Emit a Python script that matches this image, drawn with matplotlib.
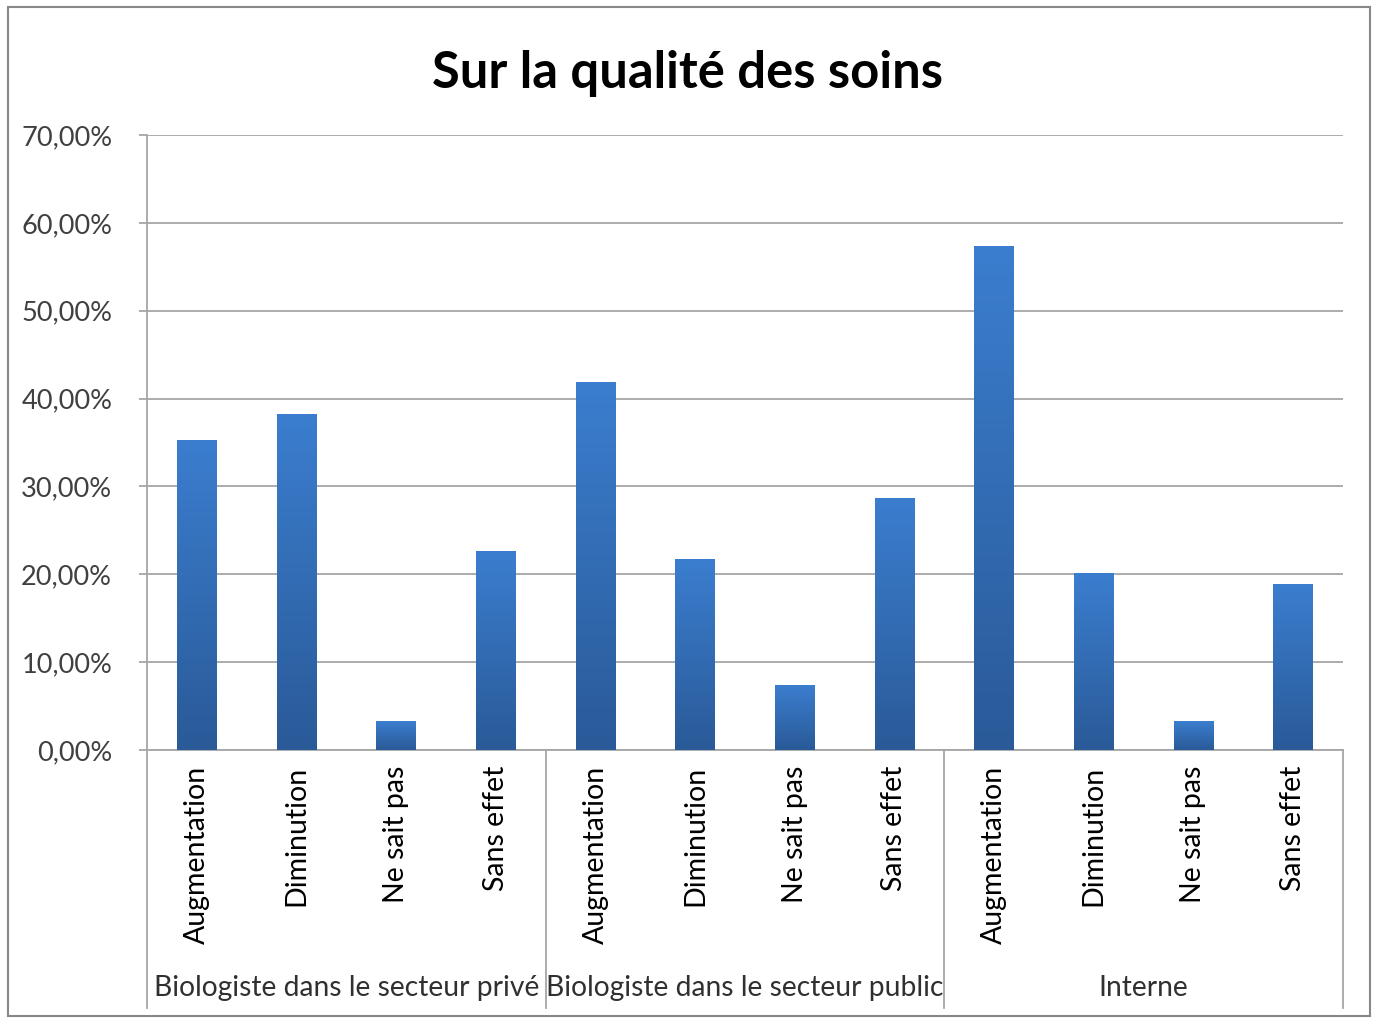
'''Sur la qualité des soins - graphique en barres groupées'''

import numpy as np
import matplotlib.pyplot as plt
from matplotlib.patches import Rectangle
from matplotlib.ticker import FuncFormatter
from matplotlib.colors import LinearSegmentedColormap

groupes = ['Biologiste dans le secteur privé', 'Biologiste dans le secteur public', 'Interne']
reponses = ['Augmentation', 'Diminution', 'Ne sait pas', 'Sans effet']

prive = [35.3, 38.2, 3.3, 22.7]
public = [41.9, 21.7, 7.4, 28.7]
interne = [57.4, 20.2, 3.3, 18.9]

valeurs = prive + public + interne
etiquettes = reponses * len(groupes)

plt.rcParams['font.family'] = ['Lato', 'DejaVu Sans']

fig = plt.figure(figsize=(13.76, 10.19), dpi=100)
ax = fig.add_axes([0.1068, 0.264, 0.8692, 0.6035])

x = np.arange(len(valeurs))
barres = ax.bar(x, valeurs, width=0.4, color='#3470BE', zorder=3)

# dégradé vertical dans chaque barre (clair en haut, foncé en bas)
degrade = np.linspace(0, 1, 256).reshape(-1, 1)
cmap = LinearSegmentedColormap.from_list('bleu', ['#2A5A98', '#3B7ECF'])
for b in barres:
    x0, y0 = b.get_x(), b.get_y()
    w, h = b.get_width(), b.get_height()
    im = ax.imshow(degrade, extent=[x0, x0 + w, y0, y0 + h], origin='lower',
                   aspect='auto', cmap=cmap, zorder=4)
    im.set_clip_path(b)

ax.set_xlim(-0.5, len(valeurs) - 0.5)
ax.set_ylim(0, 70)
ax.set_yticks(np.arange(0, 71, 10))
ax.yaxis.set_major_formatter(FuncFormatter(lambda v, p: f'{v:.2f}%'.replace('.', ',')))
ax.grid(axis='y', color='#A6A6A6', linewidth=1.3, zorder=0)

for s in ['top', 'right']:
    ax.spines[s].set_visible(False)
for s in ['left', 'bottom']:
    ax.spines[s].set_color('#A6A6A6')
    ax.spines[s].set_linewidth(1.3)

ax.set_xticks(x)
ax.set_xticklabels(etiquettes, rotation=90, va='top', ha='center')
ax.tick_params(axis='x', length=0, pad=11, labelsize=20.5, labelcolor='#000000')
ax.tick_params(axis='y', length=6, width=1.3, color='#A6A6A6', pad=19,
               labelsize=19.5, labelcolor='#404040')

# séparateurs et noms des groupes sous l'axe
bas = -(1008 - 750) / 615
n = len(reponses)
for i in range(len(groupes) + 1):
    ax.plot([i * n - 0.5, i * n - 0.5], [0, bas], transform=ax.get_xaxis_transform(),
            color='#A6A6A6', linewidth=1.3, clip_on=False)
for i, g in enumerate(groupes):
    ax.text(i * n + (n - 1) / 2, -(988 - 750) / 615, g, transform=ax.get_xaxis_transform(),
            ha='center', va='center', fontsize=20.3, color='#303030')

fig.suptitle('Sur la qualité des soins', y=0.951, fontsize=36.5, fontweight='bold')

fig.patches.append(Rectangle((0.006, 0.003), 0.99, 0.99, transform=fig.transFigure,
                             fill=False, edgecolor='#888888', linewidth=1.5))

plt.savefig('out.png', dpi=100)
